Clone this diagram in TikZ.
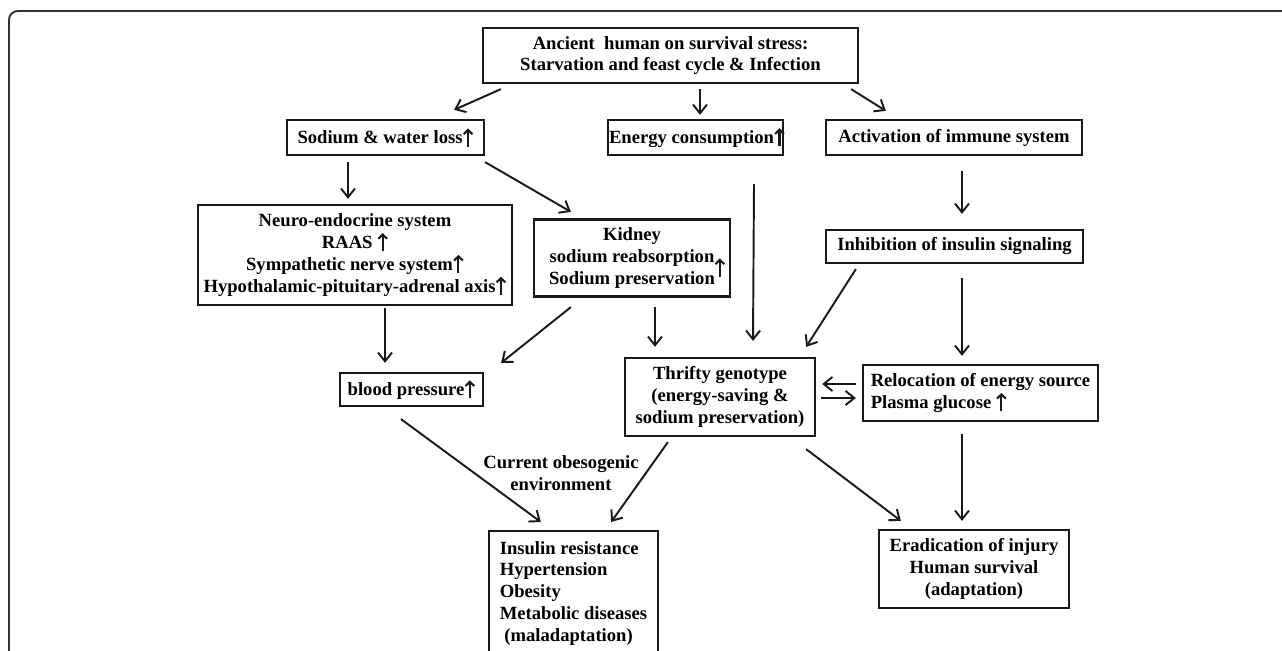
\documentclass[tikz,border=0pt]{standalone}
\usepackage{fontspec}
\setmainfont{Liberation Serif}
\usepackage{tikz}
\usetikzlibrary{arrows.meta,positioning}
% small upward arrow used inside the texts
\newcommand{\incr}{\tikz[baseline=0pt]\draw[line width=1.2pt, black!90, -{Straight Barb[length=2.4pt, width=5pt]}] (0pt,-1.5pt) -- (0pt,8.8pt);}

\begin{document}
\begin{tikzpicture}[x=0.02cm, y=-0.02cm, every node/.style={font=\fontsize{10.6}{12.4}\selectfont\bfseries}]

    % Styles for boxes and arrows
    \tikzset{
        flowbox/.style={draw=black!90, line width=1.3pt, inner xsep=1pt, inner ysep=2pt, align=center},
        listbox/.style={flowbox, align=left},
        arrow/.style={-{Straight Barb[length=5pt, width=8pt]}, line width=1.1pt, black!90}
    }

    % Page and outer frame
    \useasboundingbox (0,0) rectangle (1282,651);
    \clip (0,0) rectangle (1282,651);
    \draw[line width=1.1pt, black!80, rounded corners=5pt] (1300,11) -- (9,11) -- (9,680);

    % Top level
    \node[flowbox, minimum width=7.5cm, minimum height=1.1cm] (ancient) at (670.5,55.5) {Ancient\ \ human on survival stress:\\Starvation and feast cycle \& Infection};

    \node[flowbox, minimum width=3.94cm, minimum height=0.7cm] (sodium) at (385.5,137.5) {Sodium \& water loss\incr};
    \node[flowbox, inner xsep=0pt, minimum width=3.5cm, minimum height=0.7cm] (energy) at (695.5,137.5) {Energy consumption\makebox[4.5pt][l]{\incr}};
    \node[flowbox, minimum width=5.12cm, minimum height=0.7cm] (immune) at (954,137.5) {Activation of immune system};

    % Middle level
    \node[flowbox, minimum width=6.28cm, minimum height=2cm] (neuro) at (355,255) {Neuro-endocrine system\\RAAS \incr\\Sympathetic nerve system\incr\\Hypothalamic-pituitary-adrenal axis\incr};
    \node[flowbox, minimum width=3.92cm, minimum height=1.54cm] (kidney) at (632,258) {Kidney\\sodium reabsorption\rlap{\smash{\raisebox{-6.5pt}{\incr}}}\\Sodium preservation};
    \node[flowbox, minimum width=5.14cm, minimum height=0.66cm] (insulinsig) at (954.5,246.5) {Inhibition of insulin signaling};

    \node[flowbox, minimum width=2.86cm, minimum height=0.66cm] (bp) at (411.5,389.5) {blood pressure\incr};
    \node[flowbox, minimum width=3.8cm, minimum height=1.56cm] (thrifty) at (720,397) {Thrifty genotype\\(energy-saving \&\\sodium preservation)};
    \node[listbox, minimum width=4.7cm, minimum height=1.12cm] (relocation) at (980.5,393) {Relocation of energy source\\Plasma glucose \incr};

    % Outcomes
    \node[listbox, anchor=north, minimum width=3.38cm, inner ysep=0.2cm] (disease) at (573.5,530) {Insulin resistance\\Hypertension\\Obesity\\Metabolic diseases\\\hspace*{0.25em}(maladaptation)\\\mbox{}};
    \node[flowbox, minimum width=3.8cm, minimum height=1.56cm] (survival) at (974,569) {Eradication of injury\\Human survival\\(adaptation)};
    \node[align=center] (obeso) at (561,473) {Current obesogenic\\environment};

    % Arrows
    \draw[arrow] ([shift={(19,5)}]ancient.south west) -- ([shift={(-31,-9)}]sodium.north east);
    \draw[arrow] ([shift={(29.5,5)}]ancient.south) -- ([shift={(4.5,-4)}]energy.north);
    \draw[arrow] ([shift={(-8,5)}]ancient.south east) -- ([shift={(61,-8)}]immune.north west);

    \draw[arrow] ([shift={(-37.5,6)}]sodium.south) -- ([shift={(-7,-5)}]neuro.north);
    \draw[arrow] ([shift={(0,6)}]sodium.south east) -- ([shift={(38,-6.5)}]kidney.north west);
    \draw[arrow] ([shift={(58.5,28)}]energy.south) -- ([shift={(33,-16)}]thrifty.north);
    \draw[arrow] ([shift={(8,15)}]immune.south) -- ([shift={(7.5,-15)}]insulinsig.north);

    \draw[arrow] ([shift={(30,2)}]neuro.south) -- ([shift={(-26.5,-9)}]bp.north);
    \draw[arrow] ([shift={(38,9.5)}]kidney.south west) -- ([shift={(17,-9)}]bp.north east);
    \draw[arrow] ([shift={(23,9.5)}]kidney.south) -- ([shift={(-65,-10)}]thrifty.north);
    \draw[arrow] ([shift={(31,5)}]insulinsig.south west) -- ([shift={(-10,-10)}]thrifty.north east);
    \draw[arrow] ([shift={(7.5,14)}]insulinsig.south) -- ([shift={(-18.5,-8)}]relocation.north);

    \draw[arrow] ([shift={(-6,-9)}]relocation.west) -- ([shift={(6,-13)}]thrifty.east);
    \draw[arrow] ([shift={(5,1)}]thrifty.east) -- ([shift={(-6,5)}]relocation.west);

    \draw[arrow] ([shift={(-10.5,12)}]bp.south) -- ([shift={(53,-8)}]disease.north west);
    \draw[arrow] ([shift={(44,5)}]thrifty.south west) -- ([shift={(-48,-8)}]disease.north east);
    \draw[arrow] ([shift={(-10,12)}]thrifty.south east) -- ([shift={(23,-8)}]survival.north west);
    \draw[arrow] ([shift={(-18.5,12)}]relocation.south) -- ([shift={(-12,-8)}]survival.north);

\end{tikzpicture}
\end{document}
